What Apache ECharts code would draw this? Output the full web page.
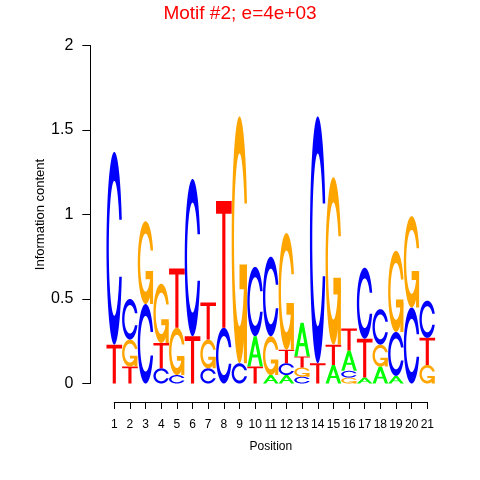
<!DOCTYPE html>
<html>
<head>
<meta charset="utf-8">
<script src="https://cdn.jsdelivr.net/npm/echarts@6/dist/echarts.min.js"></script>
<style>
  html, body { margin: 0; background: #fff; }
  #chart { width: 480px; height: 480px; }
</style>
</head>
<body>
<div id="chart"></div>
<script>
// 位置 1..21
var positions = [1, 2, 3, 4, 5, 6, 7, 8, 9, 10, 11, 12, 13, 14, 15, 16, 17, 18, 19, 20, 21];
var bases = ["A", "C", "G", "T"];
// 每个位置上各碱基的信息量（bits）
var heightA = [0, 0, 0, 0, 0, 0, 0, 0, 0, 0.18, 0.05, 0.05, 0.20, 0, 0.11, 0.12, 0.035, 0.10, 0.045, 0, 0];
var heightC = [1.14, 0.24, 0.47, 0.09, 0.05, 0.93, 0.09, 0.33, 0.12, 0.41, 0.47, 0.07, 0.04, 1.46, 0, 0.04, 0.42, 0.21, 0.26, 0.45, 0.22];
var heightG = [0, 0.16, 0.49, 0.35, 0.28, 0, 0.17, 0, 1.46, 0, 0.23, 0.69, 0.055, 0, 0.99, 0.035, 0, 0.13, 0.48, 0.54, 0.11];
var heightT = [0.23, 0.10, 0, 0.15, 0.35, 0.28, 0.22, 0.75, 0, 0.10, 0, 0.08, 0.065, 0.12, 0.12, 0.13, 0.23, 0, 0, 0, 0.16];
var yTicks = [0, 0.5, 1, 1.5, 2];

var letterColors = { A: "#00FF00", C: "#0000FF", G: "#FFA500", T: "#FF0000" };
var fontFamily = "Liberation Sans, Arial, Helvetica, sans-serif";

// 字母形状，单位方格，y 轴向上（仿 seqLogo 的多边形字母）
function linspace(a, b, n) {
  var out = [];
  for (var i = 0; i < n; i++) out.push(a + (b - a) * i / (n - 1));
  return out;
}
function ringShape() {
  var a1 = linspace(Math.PI / 2 + 0.3, Math.PI, 100);
  var a2 = linspace(Math.PI, 1.5 * Math.PI, 100);
  var outer = a1.concat(a2).map(function (a) {
    return [0.5 + 0.5 * Math.sin(a), 0.5 + 0.5 * Math.cos(a)];
  });
  var hmax = 0.5 + 0.5 * Math.cos(Math.PI / 2 + 0.3);
  var in1 = a1.map(function (a) {
    return [0.5 + 0.35 * Math.sin(a), 0.5 + 0.35 * Math.cos(a)];
  }).filter(function (p) { return p[1] <= hmax; });
  in1[0] = [in1[0][0], hmax];
  var in2 = a2.map(function (a) {
    return [0.5 + 0.35 * Math.sin(a), 0.5 + 0.35 * Math.cos(a)];
  });
  var inner = in1.concat(in2);
  var outerFull = outer.concat(outer.slice().reverse().map(function (p) { return [p[0], 1 - p[1]]; }));
  var innerFull = inner.concat(inner.slice().reverse().map(function (p) { return [p[0], 1 - p[1]]; }));
  return outerFull.concat(innerFull.reverse());
}
var ring = ringShape();
var r1 = 0.5 + 0.5 * Math.cos(0.3);
var letterShapes = {
  A: [[
    [[0, 0], [0.4, 1], [0.6, 1], [1, 0], [0.8, 0], [0.68, 0.3], [0.32, 0.3], [0.2, 0]],
    [[0.36, 0.4], [0.64, 0.4], [0.5, 0.75]]
  ]],
  C: [[ring]],
  G: [[ring], [[[r1, 0.4], [0.5, 0.4], [0.5, 0.3], [r1 - 0.2, 0.3], [r1 - 0.2, 0], [r1, 0]]]],
  T: [[[[0, 1], [1, 1], [1, 0.9], [0.6, 0.9], [0.6, 0], [0.4, 0], [0.4, 0.9], [0, 0.9]]]]
};

// 按高度从小到大堆叠
var heights = { A: heightA, C: heightC, G: heightG, T: heightT };
var stackData = [];
positions.forEach(function (pos, i) {
  var col = bases.map(function (b, k) { return { k: k, h: heights[b][i] }; })
    .filter(function (d) { return d.h > 0; })
    .sort(function (a, b) { return a.h - b.h; });
  var base = 0;
  col.forEach(function (d) {
    stackData.push([pos, base, base + d.h, d.k]);
    base += d.h;
  });
});

function renderLetter(params, api) {
  var pos = api.value(0), lo = api.value(1), hi = api.value(2);
  var letter = bases[api.value(3)];
  var p0 = api.coord([pos - 0.5, lo]);
  var p1 = api.coord([pos + 0.5, hi]);
  var w = p1[0] - p0[0], h = p0[1] - p1[1];
  var children = letterShapes[letter].map(function (polys) {
    var d = polys.map(function (poly) {
      return "M" + poly.map(function (pt) {
        return (p0[0] + pt[0] * w).toFixed(2) + " " + (p0[1] - pt[1] * h).toFixed(2);
      }).join("L") + "Z";
    }).join(" ");
    return { type: "path", shape: { pathData: d }, style: { fill: letterColors[letter] } };
  });
  return { type: "group", children: children };
}

var chart = echarts.init(document.getElementById("chart"));
chart.setOption({
  backgroundColor: "#fff",
  animation: false,
  title: {
    text: "Motif #2; e=4e+03",
    left: "center",
    top: -1,
    textStyle: { color: "#FF0000", fontSize: 19, fontWeight: "normal", fontFamily: fontFamily }
  },
  grid: { left: 114.3, right: 52.7, top: 45.5, bottom: 96.5 },
  xAxis: {
    type: "value",
    min: 1,
    max: 21,
    interval: 1,
    offset: 18.5,
    name: "Position",
    nameLocation: "middle",
    nameGap: 39,
    nameMoveOverlap: false,
    nameTextStyle: { color: "#000", fontSize: 12, fontFamily: fontFamily },
    axisLine: { show: true, onZero: false, lineStyle: { color: "#000", width: 1 } },
    axisTick: { show: true, length: 7, lineStyle: { color: "#000" } },
    axisLabel: { color: "#000", fontSize: 12, fontFamily: fontFamily, margin: 17 },
    splitLine: { show: false }
  },
  yAxis: {
    type: "value",
    min: 0,
    max: 2,
    interval: 0.5,
    offset: 24,
    name: "Information content",
    nameLocation: "middle",
    nameGap: 43,
    nameRotate: 90,
    nameMoveOverlap: false,
    nameTextStyle: { color: "#000", fontSize: 13, fontFamily: fontFamily },
    axisLine: { show: true, onZero: false, lineStyle: { color: "#000", width: 1 } },
    axisTick: { show: true, length: 8, lineStyle: { color: "#000" } },
    axisLabel: {
      color: "#000", fontSize: 16, fontFamily: fontFamily, margin: 17,
      formatter: function (v) { return yTicks.indexOf(v) >= 0 ? String(v) : ""; }
    },
    splitLine: { show: false }
  },
  series: [{
    type: "custom",
    renderItem: renderLetter,
    encode: { x: 0, y: [1, 2] },
    data: stackData,
    clip: false,
    silent: true
  }]
});
</script>
</body>
</html>
